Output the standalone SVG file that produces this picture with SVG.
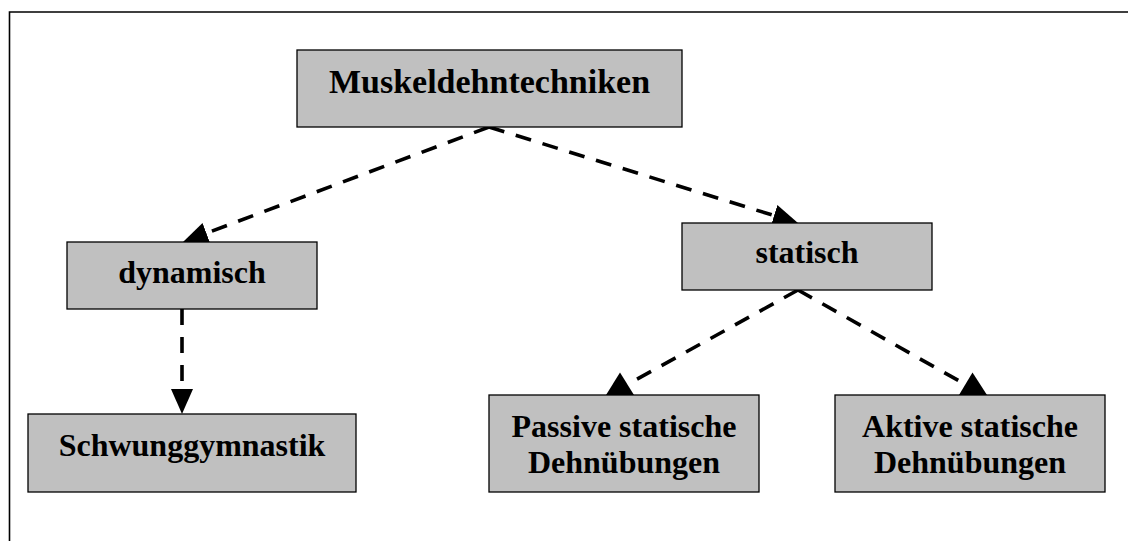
<svg xmlns="http://www.w3.org/2000/svg" width="1128" height="541" viewBox="0 0 1128 541">
<style>
.box{fill:#c0c0c0;stroke:#000;stroke-width:1.3}
.lbl{font-family:"Liberation Serif","Times New Roman",serif;font-weight:bold;font-size:32px;fill:#000;text-anchor:middle}
.edge{fill:none;stroke:#000;stroke-width:3.6;stroke-dasharray:16 12}
.head{fill:#000}
</style>
<defs>
<marker id="arr" markerUnits="userSpaceOnUse" markerWidth="26" markerHeight="24" refX="0" refY="12" orient="auto" viewBox="0 0 26 24">
<path d="M0,1 L25,12 L0,23 z" fill="#000"/>
</marker>
</defs>
<rect width="1128" height="541" fill="#fff"/>
<path d="M9.5,545 L9.5,12 L1135,12" fill="none" stroke="#000" stroke-width="1.6"/>
<g id="connectors">
<line class="edge" x1="489" y1="127" x2="206.4" y2="233.2" marker-end="url(#arr)"/>
<line class="edge" x1="489" y1="127" x2="774.1" y2="215.6" marker-end="url(#arr)"/>
<line class="edge" x1="182" y1="309" x2="182" y2="389" marker-end="url(#arr)"/>
<line class="edge" x1="798" y1="290" x2="632" y2="382"/>
<polygon class="head" points="620,372.5 606,395 634,395"/>
<line class="edge" x1="798" y1="290" x2="961" y2="382"/>
<polygon class="head" points="972.5,372.5 959,395 987,395"/>
</g>
<g id="n-muskel">
<rect class="box" x="297" y="50" width="385" height="77"/>
<text class="lbl" x="489.5" y="93" style="font-size:34px">Muskeldehntechniken</text>
</g>
<g id="n-dynamisch">
<rect class="box" x="67" y="242" width="250" height="67"/>
<text class="lbl" x="192" y="283">dynamisch</text>
</g>
<g id="n-statisch">
<rect class="box" x="682" y="223" width="250" height="67"/>
<text class="lbl" x="807" y="263">statisch</text>
</g>
<g id="n-schwung">
<rect class="box" x="28" y="414" width="328" height="78"/>
<text class="lbl" x="192" y="456">Schwunggymnastik</text>
</g>
<g id="n-passive">
<rect class="box" x="489" y="395" width="270" height="97"/>
<text class="lbl" x="624" y="437">Passive statische</text>
<text class="lbl" x="624" y="473">Dehnübungen</text>
</g>
<g id="n-aktive">
<rect class="box" x="835" y="395" width="270" height="97"/>
<text class="lbl" x="970" y="437">Aktive statische</text>
<text class="lbl" x="970" y="473">Dehnübungen</text>
</g>
</svg>
